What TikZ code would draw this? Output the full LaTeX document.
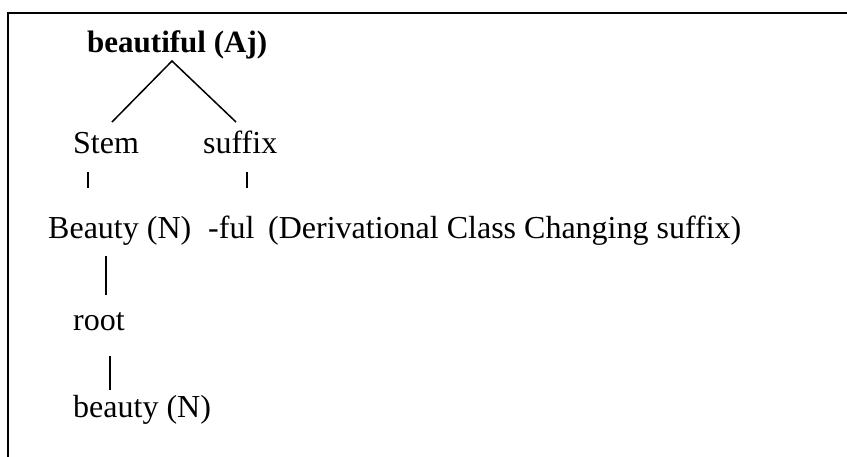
\documentclass[tikz,border=0pt]{standalone}
\usepackage{fontspec}
\setmainfont{Liberation Serif}
\begin{document}
\begin{tikzpicture}[x=1pt,y=-1pt,
  lbl/.style={anchor=base west,inner sep=0pt,font=\fontsize{32}{36}\selectfont},
  head/.style={lbl,font=\fontsize{31}{36}\selectfont\bfseries},
  branch/.style={line width=1.5pt},
  frame/.style={line width=2pt}]
\useasboundingbox (0,0) rectangle (847,456);
% open frame: top and left edges only
\draw[frame] (8,470) -- (8,13) -- (860,13);

% labels
\node[head] (word)   at (87,52)  {beautiful (Aj)};
\node[lbl]  (stem)   at (73,153) {Stem};
\node[lbl]  (suffix) at (203,153) {suffix};
\node[lbl]  (base)   at (48,238) {Beauty (N)};
\node[lbl]  (ful)    at (208,238) {-ful};
\node[lbl]  (note)   at (268,238) {(Derivational Class Changing suffix)};
\node[lbl]  (root)   at (73,330) {root};
\node[lbl]  (lex)    at (73,417) {beauty (N)};

% branch points
\coordinate (apex) at (172,61);
\coordinate (stemtop) at (112,122);
\coordinate (suftop) at (236,122);
\coordinate (st1) at (88,172);  \coordinate (st2) at (88,188);
\coordinate (sf1) at (247,172); \coordinate (sf2) at (247,188);
\coordinate (b1) at (106,256);  \coordinate (b2) at (106,295);
\coordinate (r1) at (110,356);  \coordinate (r2) at (110,390);

\draw[branch] (stemtop) -- (apex) -- (suftop);
\draw[branch] (st1) -- (st2);
\draw[branch] (sf1) -- (sf2);
\draw[branch] (b1) -- (b2);
\draw[branch] (r1) -- (r2);
\end{tikzpicture}
\end{document}
